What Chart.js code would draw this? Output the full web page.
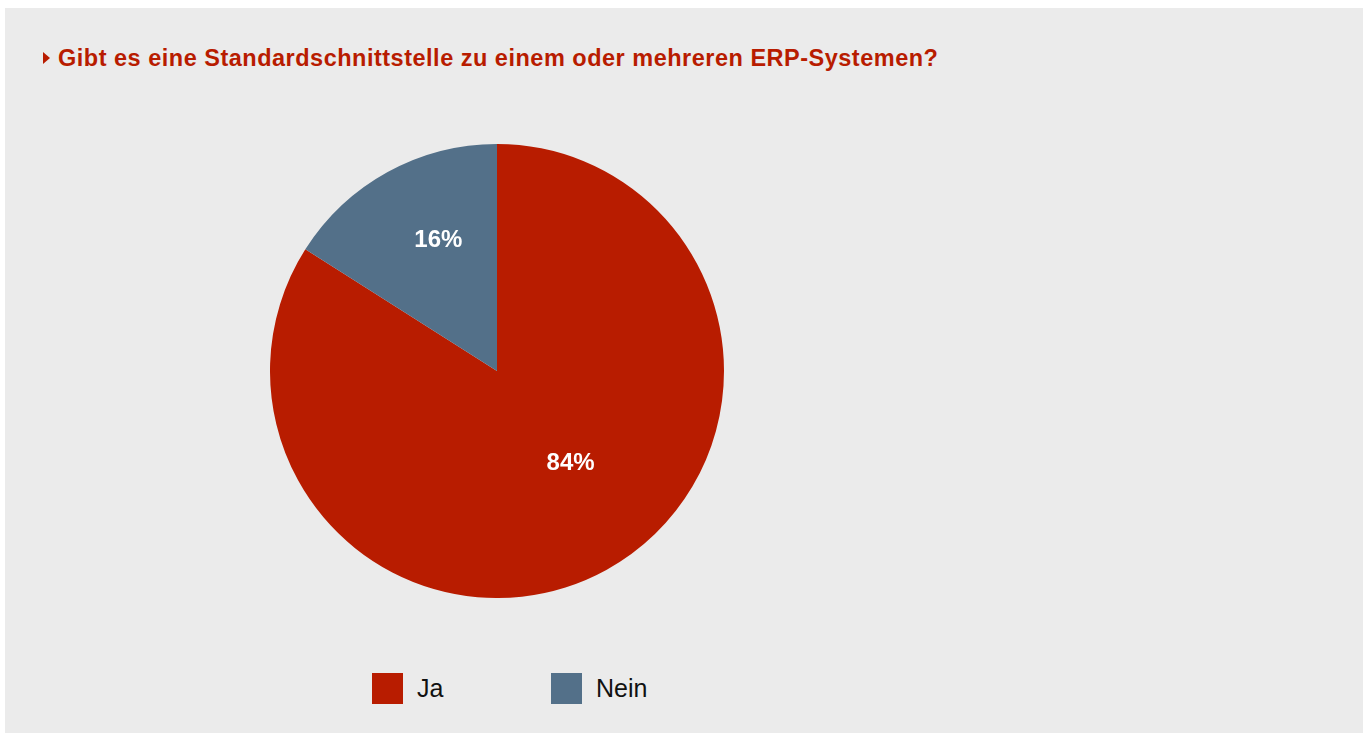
<!DOCTYPE html>
<html>
<head>
<meta charset="utf-8">
<script src="https://cdn.jsdelivr.net/npm/chart.js@4.4.0/dist/chart.umd.min.js"></script>
<style>
    html, body { margin: 0; padding: 0; background: #ffffff; }
    body { width: 1367px; height: 735px; position: relative; overflow: hidden; font-family: 'Liberation Sans', Arial, sans-serif; }
    .panel { position: absolute; left: 5px; top: 8px; right: 4px; bottom: 2px; background: #ebebeb; }
    .bullet { position: absolute; left: 43px; top: 52px; width: 0; height: 0;
        border-top: 6.5px solid transparent; border-bottom: 6.5px solid transparent; border-left: 7px solid #b81c00; }
    .title { position: absolute; left: 58px; top: 47px; font-size: 23.5px; line-height: 1; font-weight: bold; color: #b81c00; white-space: nowrap; letter-spacing: 0.5px; }
    .chart-box { position: absolute; left: 270px; top: 144px; width: 454px; height: 454px; }
    .legend { position: absolute; top: 673px; left: 372px; height: 31px; }
    .legend-item { position: absolute; top: 0; height: 31px; display: flex; align-items: center; }
    .legend-item span.box { width: 31px; height: 31px; display: inline-block; }
    .legend-item span.txt { margin-left: 14px; font-size: 25px; line-height: 1; color: #111; }
</style>
</head>
<body>
<div class="panel"></div>
<div class="bullet"></div>
<div class="title" id="title"></div>
<div class="chart-box"><canvas id="pieChart"></canvas></div>
<div class="legend" id="legend"></div>

<script>
// Data
const titleText = 'Gibt es eine Standardschnittstelle zu einem oder mehreren ERP-Systemen?';
const categories = ['Ja', 'Nein'];
const values = [84, 16];
const colors = ['#b81c00', '#537089'];

document.getElementById('title').textContent = titleText;

// Legend (HTML, built from the arrays)
const legendEl = document.getElementById('legend');
const legendOffsets = [0, 179];
categories.forEach((name, i) => {
    const item = document.createElement('div');
    item.className = 'legend-item';
    item.style.left = legendOffsets[i] + 'px';
    item.innerHTML = '<span class="box" style="background:' + colors[i] + '"></span><span class="txt">' + name + '</span>';
    legendEl.appendChild(item);
});

// Percent labels inside the slices
const sliceLabels = {
    id: 'sliceLabels',
    afterDatasetsDraw(chart) {
        const ctx = chart.ctx;
        const meta = chart.getDatasetMeta(0);
        const radiusFactor = [0.52, 0.63];
        const angleShift = [-0.17, 0.08]; // nudge labels toward where the original put them
        ctx.save();
        ctx.fillStyle = '#ffffff';
        ctx.font = "bold 24px 'Liberation Sans', Arial, sans-serif";
        ctx.textAlign = 'center';
        ctx.textBaseline = 'middle';
        meta.data.forEach((arc, i) => {
            const mid = (arc.startAngle + arc.endAngle) / 2 + angleShift[i];
            const r = arc.outerRadius * radiusFactor[i];
            ctx.fillText(values[i] + '%', arc.x + Math.cos(mid) * r, arc.y + Math.sin(mid) * r);
        });
        ctx.restore();
    }
};

new Chart(document.getElementById('pieChart'), {
    type: 'pie',
    data: {
        labels: categories,
        datasets: [{
            data: values,
            backgroundColor: colors,
            borderWidth: 0
        }]
    },
    options: {
        responsive: true,
        maintainAspectRatio: false,
        animation: false,
        layout: { padding: 0 },
        plugins: {
            legend: { display: false },
            tooltip: { enabled: false }
        }
    },
    plugins: [sliceLabels]
});
</script>
</body>
</html>
